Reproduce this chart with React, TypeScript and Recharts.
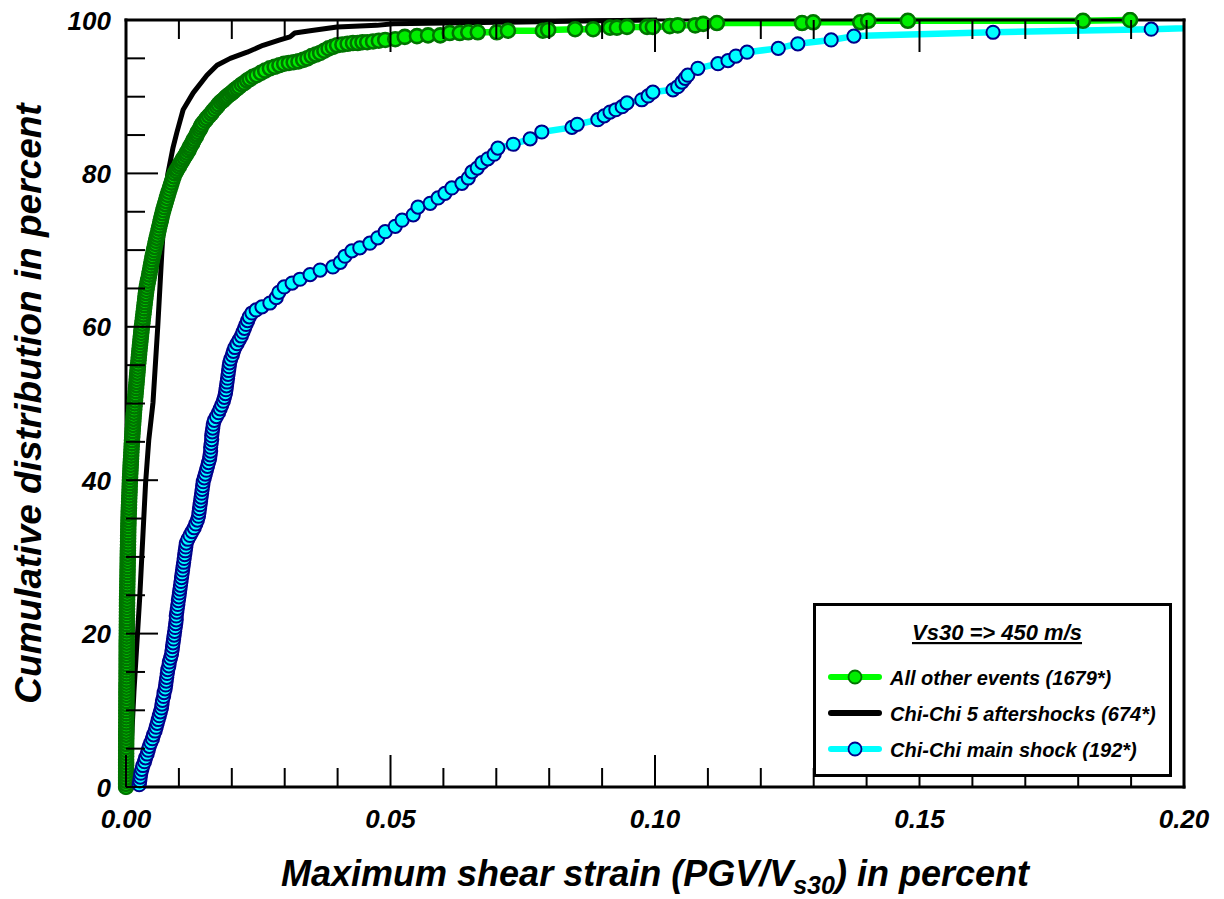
import React from 'react';
import { LineChart, Line, XAxis, YAxis, Legend } from 'recharts';

// ---------- data (x = strain in percent, y = cumulative percent) ----------
const greenLow: [number, number][] = [
  [0,0],[0,0.4],[0.00001,0.8],[0.00001,1.2],[0.00001,1.6],[0.00001,2.0],[0.00002,2.4],[0.00002,2.8],[0.00002,3.2],[0.00002,3.6],
  [0.00003,4.0],[0.00003,4.4],[0.00003,4.8],[0.00003,5.2],[0.00004,5.6],[0.00004,6.0],[0.00004,6.4],[0.00004,6.8],[0.00005,7.2],[0.00005,7.6],
  [0.00005,8.0],[0.00005,8.4],[0.00006,8.8],[0.00006,9.2],[0.00006,9.6],[0.00006,10.0],[0.00007,10.4],[0.00007,10.8],[0.00007,11.2],[0.00008,11.6],
  [0.00008,12.0],[0.00008,12.4],[0.00009,12.8],[0.00009,13.2],[0.00009,13.6],[0.0001,14.0],[0.0001,14.4],[0.0001,14.8],[0.00011,15.2],[0.00011,15.6],
  [0.00011,16.0],[0.00012,16.4],[0.00012,16.8],[0.00012,17.2],[0.00013,17.6],[0.00013,18.0],[0.00013,18.4],[0.00014,18.8],[0.00014,19.2],[0.00014,19.6],
  [0.00015,20.0],[0.00015,20.4],[0.00016,20.8],[0.00016,21.2],[0.00017,21.6],[0.00017,22.0],[0.00018,22.4],[0.00018,22.8],[0.00019,23.2],[0.00019,23.6],
  [0.0002,24.0],[0.0002,24.4],[0.00021,24.8],[0.00022,25.2],[0.00023,25.6],[0.00024,26.0],[0.00025,26.4],[0.00026,26.8],[0.00027,27.2],[0.00028,27.6],
  [0.00029,28.0],[0.0003,28.4],[0.00031,28.8],[0.00032,29.2],[0.00033,29.6],[0.00034,30.0],[0.00035,30.4],[0.00036,30.8],[0.00037,31.2],[0.00038,31.6],
  [0.00039,32.0],[0.0004,32.4],[0.00041,32.8],[0.00042,33.2],[0.00043,33.6],[0.00044,34.0],[0.00046,34.4],[0.00047,34.8],[0.00049,35.2],[0.00051,35.6],
  [0.00053,36.0],[0.00055,36.4],[0.00057,36.8],[0.00059,37.2],[0.00061,37.6],[0.00063,38.0],[0.00066,38.4],[0.00068,38.8],[0.0007,39.2],[0.00072,39.6],
  [0.00074,40.0],[0.00077,40.4],[0.0008,40.8],[0.00083,41.2],[0.00086,41.6],[0.00089,42.0],[0.00092,42.4],[0.00095,42.8],[0.00098,43.2],[0.00101,43.6],
  [0.00104,44.0],[0.00107,44.4],[0.0011,44.8],[0.00113,45.2],[0.00117,45.6],[0.00121,46.0],[0.00125,46.4],[0.00129,46.8],[0.00133,47.2],[0.00137,47.6],
  [0.00141,48.0],[0.00145,48.4],[0.0015,48.8],[0.00155,49.2],[0.0016,49.6],[0.00165,50.0],[0.0017,50.4],[0.00175,50.8],[0.0018,51.2],[0.00185,51.6],
  [0.0019,52.0],[0.00195,52.4],[0.002,52.8],[0.00205,53.2],[0.0021,53.6],[0.00215,54.0],[0.0022,54.4],[0.00225,54.8],[0.0023,55.2],[0.00236,55.6],
  [0.00241,56.0],[0.00247,56.4],[0.00252,56.8],[0.00258,57.2],[0.00264,57.6],[0.0027,58.0],[0.00276,58.4],[0.00282,58.8],[0.00288,59.2],[0.00294,59.6],
  [0.003,60.0],
];
const greenMid: [number, number][] = [
  [0.00307,60.4],[0.00314,60.8],[0.00321,61.2],[0.00328,61.6],[0.00335,62.0],[0.00342,62.4],[0.00349,62.8],[0.00356,63.2],[0.00363,63.6],[0.0037,64.0],
  [0.00377,64.4],[0.00385,64.8],[0.00394,65.2],[0.00405,65.6],[0.00416,66.0],[0.00427,66.4],[0.00438,66.8],[0.00449,67.2],[0.0046,67.6],[0.00471,68.0],
  [0.00482,68.4],[0.00493,68.8],[0.00505,69.2],[0.00517,69.6],[0.0053,70.0],[0.00543,70.4],[0.00556,70.8],[0.00569,71.2],[0.00582,71.6],[0.00595,72.0],
  [0.00608,72.4],[0.00621,72.8],[0.00634,73.2],[0.00648,73.6],[0.00662,74.0],[0.00676,74.4],[0.0069,74.8],[0.00705,75.2],[0.00722,75.6],[0.00739,76.0],
  [0.00756,76.4],[0.00773,76.8],[0.0079,77.2],[0.00808,77.6],[0.00826,78.0],[0.00844,78.4],[0.00862,78.8],[0.0088,79.2],[0.009,79.6],[0.0092,80.0],
  [0.0095,80.3],[0.0097,80.6],[0.01,80.9],[0.0102,81.2],[0.0105,81.5],[0.0107,81.8],[0.011,82.1],[0.0113,82.4],[0.0115,82.7],[0.0118,83.0],
  [0.012,83.3],[0.0122,83.6],[0.0125,83.9],[0.0127,84.2],[0.0129,84.5],[0.0132,84.8],[0.0134,85.1],[0.0136,85.4],[0.0139,85.7],[0.0141,86.0],
  [0.0143,86.3],[0.0146,86.6],[0.015,86.9],[0.0153,87.2],[0.0157,87.5],[0.0161,87.8],[0.0164,88.1],[0.0168,88.4],[0.0172,88.7],[0.0175,89.0],
  [0.0179,89.3],[0.0183,89.5],[0.0186,89.7],[0.0189,89.9],[0.0192,90.1],[0.0196,90.3],[0.02,90.5],[0.0203,90.7],[0.0206,90.9],[0.021,91.1],
  [0.0214,91.3],[0.0219,91.6],[0.0224,91.8],[0.0229,92.1],[0.0234,92.3],[0.024,92.6],
];
const greenUpper: [number, number][] = [
  [0.0247,92.8],[0.0255,93.1],[0.0263,93.4],[0.0272,93.7],[0.0281,93.9],[0.029,94.1],[0.0299,94.3],[0.0308,94.4],[0.0317,94.5],[0.0326,94.6],
  [0.0335,94.8],[0.0343,95.0],[0.0351,95.3],[0.0359,95.5],[0.0367,95.7],[0.0375,96.0],[0.0383,96.3],[0.0391,96.5],[0.0399,96.7],[0.0409,96.8],
  [0.0419,96.9],[0.0429,97.0],[0.0438,97.0],[0.0447,97.1],[0.0456,97.1],[0.0467,97.2],[0.0478,97.3],
];
const greenTail: [number, number][] = [
  [0.049,97.4],[0.0509,97.5],[0.0527,97.8],[0.055,97.9],[0.0571,98.0],[0.0594,98.0],[0.0612,98.3],[0.0631,98.3],[0.0647,98.4],[0.0665,98.4],
  [0.0701,98.4],[0.0722,98.6],[0.0788,98.6],[0.0798,98.7],[0.0849,98.8],[0.0883,98.8],[0.0915,99.0],[0.0928,99.0],[0.0947,99.1],[0.0985,99.1],
  [0.0996,99.1],[0.1028,99.2],[0.1043,99.3],[0.1076,99.3],[0.1091,99.5],[0.1117,99.6],[0.1278,99.6],[0.1299,99.7],[0.1388,99.7],[0.1403,99.9],
  [0.1478,99.9],[0.1809,99.9],[0.1898,100],
];

const blackPts: [number, number][] = [
  [0.0006,0],[0.0015,12.4],[0.0026,24.8],[0.0037,39.6],[0.0043,45.2],[0.0051,50.1],[0.006,60.0],[0.0068,70.0],[0.0074,76.5],[0.0079,79.9],
  [0.0089,83.4],[0.0096,85.3],[0.0108,88.3],[0.0127,90.5],[0.0153,92.8],[0.0172,94.1],[0.0197,95.0],[0.0229,95.8],[0.0259,96.7],[0.0291,97.4],
  [0.031,97.8],[0.0319,98.3],[0.0348,98.6],[0.0399,99.1],[0.0474,99.3],[0.0505,99.5],[0.0707,99.7],[0.0896,99.9],[0.1004,100],
];

const cyanLow: [number, number][] = [
  [0.0025,0.3],[0.0026,0.8],[0.0027,1.3],[0.0028,1.8],[0.003,2.3],[0.0032,2.8],[0.0035,3.3],[0.0037,3.8],[0.004,4.3],[0.0042,4.8],
  [0.0044,5.3],[0.0047,5.8],[0.005,6.3],[0.0052,6.8],[0.0055,7.3],[0.0057,7.8],[0.0059,8.3],[0.0061,8.8],[0.0063,9.3],[0.0065,9.8],
  [0.0067,10.3],[0.0068,10.8],[0.0069,11.3],[0.0071,11.8],[0.0072,12.3],[0.0074,12.8],[0.0075,13.3],[0.0076,13.8],[0.0077,14.3],[0.0078,14.8],
  [0.0079,15.3],[0.0081,15.8],[0.0082,16.3],[0.0084,16.8],[0.0086,17.3],[0.0087,17.8],[0.0088,18.3],[0.0089,18.8],[0.009,19.3],[0.0091,19.8],
  [0.0092,20.3],[0.0093,20.8],[0.0094,21.3],[0.0095,21.8],[0.0095,22.3],[0.0096,22.8],[0.0097,23.3],[0.0098,23.8],[0.0099,24.3],[0.01,24.8],
  [0.0101,25.3],[0.0102,25.8],[0.0103,26.3],[0.0104,26.8],[0.0105,27.3],[0.0106,27.8],[0.0107,28.3],[0.0108,28.8],[0.0109,29.3],[0.011,29.8],
  [0.0111,30.3],[0.0112,30.8],[0.0113,31.3],[0.0114,31.8],[0.0117,32.3],[0.0121,32.8],[0.0125,33.3],[0.0129,33.8],[0.0132,34.3],[0.0135,34.8],
  [0.0137,35.3],[0.0138,35.8],[0.0139,36.3],[0.014,36.8],[0.0141,37.3],[0.0142,37.8],[0.0143,38.3],[0.0144,38.8],[0.0145,39.3],[0.0146,39.8],
  [0.0148,40.3],[0.015,40.8],[0.0152,41.3],[0.0154,41.8],[0.0156,42.3],[0.0158,42.8],[0.0159,43.3],[0.016,43.8],[0.016,44.3],[0.0161,44.8],
  [0.0162,45.3],[0.0162,45.8],[0.0163,46.3],[0.0164,46.8],[0.0165,47.3],[0.0167,47.8],[0.0171,48.3],[0.0175,48.8],[0.0178,49.3],[0.0181,49.8],
  [0.0184,50.3],[0.0186,50.8],[0.0188,51.3],[0.0189,51.8],[0.019,52.3],[0.0191,52.8],[0.0192,53.3],[0.0193,53.8],[0.0194,54.3],[0.0195,54.8],
  [0.0196,55.3],[0.0198,55.8],[0.0201,56.3],[0.0203,56.8],[0.0206,57.3],[0.021,57.8],[0.0214,58.3],[0.0218,58.8],[0.0221,59.3],[0.0224,59.8],
  [0.0227,60.3],[0.023,60.8],[0.0233,61.3],[0.0238,61.8],[0.0246,62.2],
];
const cyanHigh: [number, number][] = [
  [0.0257,62.6],[0.0272,63.1],[0.0284,63.8],[0.0289,64.5],[0.0299,65.2],[0.0314,65.7],[0.0329,66.2],[0.0348,66.8],[0.0367,67.4],[0.0391,67.8],
  [0.0405,68.4],[0.0414,69.2],[0.0427,69.9],[0.0442,70.3],[0.0461,70.9],[0.0476,71.6],[0.049,72.4],[0.0509,73.1],[0.0522,73.9],[0.0543,74.6],
  [0.0552,75.6],[0.0575,76.1],[0.059,76.8],[0.0603,77.4],[0.0616,78.1],[0.0635,78.7],[0.0647,79.4],[0.0654,80.2],[0.0664,80.7],[0.0673,81.4],
  [0.0684,81.9],[0.0696,82.5],[0.0703,83.3],[0.0732,83.8],[0.0764,84.5],[0.0786,85.4],[0.0843,86.0],[0.0853,86.4],[0.0892,87.0],[0.0904,87.5],
  [0.0915,88.0],[0.0926,88.3],[0.0938,88.7],[0.0947,89.2],[0.0975,89.6],[0.0987,90.1],[0.0996,90.6],[0.1034,90.9],[0.1043,91.3],[0.1051,91.9],
  [0.1057,92.4],[0.1062,92.8],[0.1081,93.7],[0.1119,94.3],[0.1138,94.7],[0.1153,95.3],[0.1174,95.8],[0.1233,96.3],[0.127,96.9],[0.1333,97.4],
  [0.1376,97.9],[0.1639,98.4],[0.1938,98.8],[0.26,100],
];

const xTicks = [0,0.01,0.02,0.03,0.04,0.05,0.06,0.07,0.08,0.09,0.1,0.11,0.12,0.13,0.14,0.15,0.16,0.17,0.18,0.19,0.2];
const yTicks = [0,5,10,15,20,25,30,35,40,45,50,55,60,65,70,75,80,85,90,95,100];

const seriesNames = ['All other events (1679*)', 'Chi-Chi 5 aftershocks (674*)', 'Chi-Chi main shock (192*)'];
const legendTitle = 'Vs30 => 450 m/s';
const xTitleMain = 'Maximum shear strain (PGV/V';
const xTitleSub = 's30';
const xTitleEnd = ') in percent';
const yTitle = 'Cumulative distribution in percent';

const toRows = (a: [number, number][]) => a.map(([x, y]) => ({ x, y }));
const greenData = toRows([...greenLow, ...greenMid, ...greenUpper, ...greenTail]);
const blackData = toRows(blackPts);
const cyanData = toRows([...cyanLow, ...cyanHigh]);

// ---------- layout (chart placed at the page's top-left corner) ----------
const W = 1224;
const H = 899;
const PLOT_LEFT = 126;
const PLOT_TOP = 20;
const PLOT_W = 1058;
const PLOT_H = 767;
const AX = 1; // thickness reserved for each axis (must be > 0 for Recharts to draw it)
const MARGIN = {
  top: PLOT_TOP - AX,
  left: PLOT_LEFT - AX,
  right: W - PLOT_LEFT - PLOT_W - AX,
  bottom: H - PLOT_TOP - PLOT_H - AX,
};
const FONT = '"Liberation Sans", Arial, Helvetica, sans-serif';
const MAJOR = 32;
const MINOR = 19;

const GREEN_LINE = '#00ff00';
const GREEN_FILL = '#00ee00';
const GREEN_EDGE = '#007400';
const CYAN = '#00ffff';
const NAVY = '#00008b';

const isMajor = (v: number, step: number) => Math.abs(v / step - Math.round(v / step)) < 1e-6;

const textStyle = { fontFamily: FONT, fontWeight: 'bold' as const, fontStyle: 'italic' as const, fill: '#000' };

function BottomTick(props: any) {
  const { x, payload } = props;
  const y = PLOT_TOP + PLOT_H;
  const v = payload.value as number;
  const major = isMajor(v, 0.05);
  return (
    <g>
      <line x1={x} x2={x} y1={y} y2={y - (major ? MAJOR : MINOR)} stroke="#000" strokeWidth={2} />
      {major && (
        <text x={x} y={y + 41} textAnchor="middle" fontSize={26} {...textStyle}>
          {v.toFixed(2)}
        </text>
      )}
    </g>
  );
}

function TopTick(props: any) {
  const { x, payload } = props;
  const y = PLOT_TOP;
  const major = isMajor(payload.value, 0.05);
  return <line x1={x} x2={x} y1={y} y2={y + (major ? MAJOR : MINOR)} stroke="#000" strokeWidth={2} />;
}

function LeftTick(props: any) {
  const { y, payload } = props;
  const x = PLOT_LEFT;
  const v = payload.value as number;
  const major = isMajor(v, 20);
  return (
    <g>
      <line x1={x} x2={x + (major ? MAJOR : MINOR)} y1={y} y2={y} stroke="#000" strokeWidth={2} />
      {major && (
        <text x={x - 15} y={y + 9.5} textAnchor="end" fontSize={26} {...textStyle}>
          {String(v)}
        </text>
      )}
    </g>
  );
}

function RightTick(props: any) {
  const { y, payload } = props;
  const x = PLOT_LEFT + PLOT_W;
  const major = isMajor(payload.value, 20);
  return <line x1={x} x2={x - (major ? MAJOR : MINOR)} y1={y} y2={y} stroke="#000" strokeWidth={2} />;
}

const renderXTitle = () => (
  <text x={PLOT_LEFT + PLOT_W / 2} y={PLOT_TOP + PLOT_H + 99} textAnchor="middle" fontSize={36} {...textStyle}>
    {xTitleMain}
    <tspan fontSize={25} dy={8}>{xTitleSub}</tspan>
    <tspan dy={-8}>{xTitleEnd}</tspan>
  </text>
);

const renderYTitle = () => {
  const cx = 41;
  const cy = PLOT_TOP + PLOT_H / 2;
  return (
    <text x={cx} y={cy} transform={`rotate(-90, ${cx}, ${cy})`} textAnchor="middle" fontSize={37} {...textStyle}>
      {yTitle}
    </text>
  );
};

const legendRows = [
  { name: seriesNames[0], line: GREEN_LINE, dot: { fill: GREEN_FILL, stroke: GREEN_EDGE } },
  { name: seriesNames[1], line: '#000000', dot: null as null | { fill: string; stroke: string } },
  { name: seriesNames[2], line: CYAN, dot: { fill: CYAN, stroke: NAVY } },
];

const LEG_W = 359;
const LEG_H = 174;

function LegendBox() {
  return (
    <svg width={LEG_W} height={LEG_H} style={{ display: 'block' }}>
      <rect x={1.5} y={1.5} width={LEG_W - 3} height={LEG_H - 3} fill="#fff" stroke="#000" strokeWidth={3} />
      <text x={184} y={37} textAnchor="middle" fontSize={22} textDecoration="underline" {...textStyle}>
        {legendTitle}
      </text>
      {legendRows.map((r, i) => {
        const cy = 74 + i * 36;
        return (
          <g key={r.name}>
            <line x1={18} x2={66} y1={cy} y2={cy} stroke={r.line} strokeWidth={6} strokeLinecap="round" />
            {r.dot && <circle cx={42} cy={cy} r={6.5} fill={r.dot.fill} stroke={r.dot.stroke} strokeWidth={1.8} />}
            <text x={77} y={cy + 8} fontSize={20} {...textStyle}>
              {r.name}
            </text>
          </g>
        );
      })}
    </svg>
  );
}

const frameLine = { stroke: '#000', strokeWidth: 3, strokeLinecap: 'square' as const };

export default function App() {
  return (
    <div style={{ position: 'absolute', left: 0, top: 0, width: W, height: H }}>
      <LineChart width={W} height={H} margin={MARGIN}>
        <XAxis
          xAxisId="bottom" dataKey="x" type="number" domain={[0, 0.2]} ticks={xTicks} interval={0}
          allowDataOverflow orientation="bottom" height={AX} tickSize={0} tickMargin={0} tickLine={false}
          axisLine={frameLine} tick={<BottomTick />} label={renderXTitle}
        />
        <XAxis
          xAxisId="top" dataKey="x" type="number" domain={[0, 0.2]} ticks={xTicks} interval={0}
          allowDataOverflow orientation="top" height={AX} tickSize={0} tickMargin={0} tickLine={false}
          axisLine={frameLine} tick={<TopTick />}
        />
        <YAxis
          yAxisId="left" type="number" domain={[0, 100]} ticks={yTicks} interval={0} orientation="left"
          width={AX} tickSize={0} tickMargin={0} tickLine={false} axisLine={frameLine} tick={<LeftTick />}
          label={renderYTitle}
        />
        <YAxis
          yAxisId="right" type="number" domain={[0, 100]} ticks={yTicks} interval={0} orientation="right"
          width={AX} tickSize={0} tickMargin={0} tickLine={false} axisLine={frameLine} tick={<RightTick />}
        />
        <Line
          xAxisId="bottom" yAxisId="left" data={greenData} dataKey="y" name={seriesNames[0]} type="linear"
          stroke={GREEN_LINE} strokeWidth={6.5} strokeLinejoin="round"
          dot={{ r: 7, fill: GREEN_FILL, stroke: GREEN_EDGE, strokeWidth: 2.6, clipDot: false }}
          activeDot={false} isAnimationActive={false}
        />
        <Line
          xAxisId="bottom" yAxisId="left" data={blackData} dataKey="y" name={seriesNames[1]} type="linear"
          stroke="#000" strokeWidth={5} strokeLinejoin="round" dot={false} activeDot={false} isAnimationActive={false}
        />
        <Line
          xAxisId="bottom" yAxisId="left" data={cyanData} dataKey="y" name={seriesNames[2]} type="linear"
          stroke={CYAN} strokeWidth={6.5} strokeLinejoin="round"
          dot={{ r: 6.6, fill: CYAN, stroke: NAVY, strokeWidth: 2, clipDot: false }}
          activeDot={false} isAnimationActive={false}
        />
        <Legend
          layout="vertical" align="center" verticalAlign="middle"
          wrapperStyle={{ left: 813, top: 603, width: LEG_W, height: LEG_H }}
          content={() => <LegendBox />}
        />
      </LineChart>
    </div>
  );
}
